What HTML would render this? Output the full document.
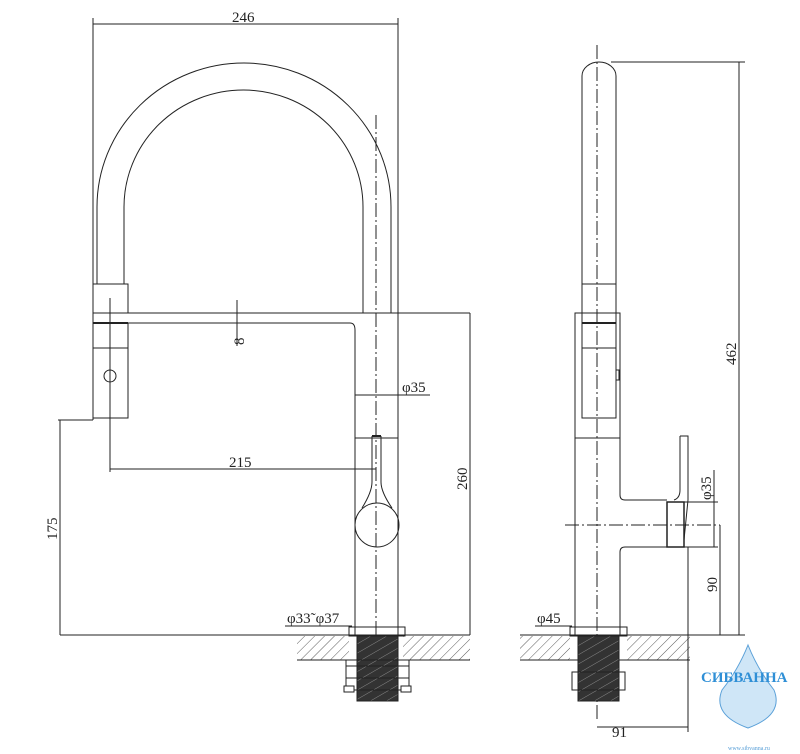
<!DOCTYPE html>
<html><head><meta charset="utf-8"><style>
html,body{margin:0;padding:0;background:#fff;}
svg{display:block;}
text{font-family:"Liberation Serif",serif;fill:#222;}
</style></head><body>
<svg width="800" height="754" viewBox="0 0 800 754" xmlns="http://www.w3.org/2000/svg">
<defs>
<pattern id="h" width="7" height="7" patternUnits="userSpaceOnUse" patternTransform="rotate(45)">
<line x1="0" y1="0" x2="0" y2="7" stroke="#333" stroke-width="0.8"/></pattern>
<pattern id="t" width="8" height="8" patternUnits="userSpaceOnUse" patternTransform="rotate(-30)">
<rect width="8" height="8" fill="#333"/><line x1="0" y1="0" x2="8" y2="0" stroke="#888" stroke-width="1"/></pattern>
</defs>
<g stroke="#222" stroke-width="1" fill="none">
<!-- LEFT VIEW -->
<line x1="93" y1="18" x2="93" y2="420"/>
<line x1="398" y1="18" x2="398" y2="313"/>
<line x1="93" y1="24" x2="398" y2="24"/>
<path d="M97 284 L97 207 A147 144 0 0 1 391 207 L391 313"/>
<path d="M124 284 L124 207 A119.5 117 0 0 1 363 207 L363 313"/>
<line x1="376" y1="115" x2="376" y2="700" stroke-dasharray="14,3,2,3"/>
<rect x="93" y="284" width="35" height="29"/>
<line x1="93" y1="313" x2="470" y2="313"/>
<path d="M93 323 L350 323 Q355 323 355 330 L355 635"/>
<line x1="398" y1="313" x2="398" y2="635"/>
<rect x="93" y="323" width="35" height="95"/>
<line x1="93" y1="323" x2="128" y2="323" stroke-width="2"/>
<line x1="93" y1="348" x2="128" y2="348"/>
<circle cx="110" cy="376" r="6"/>
<line x1="110" y1="298" x2="110" y2="472"/>
<line x1="237" y1="300" x2="237" y2="346"/>
<line x1="355" y1="395" x2="430" y2="395"/>
<line x1="355" y1="438" x2="398" y2="438"/>
<path d="M372 436 L381 436" stroke-width="2"/>
<path d="M372 436 L372 482 Q372 492 362 508"/>
<path d="M381 436 L381 482 Q381 492 392 508"/>
<circle cx="377" cy="525" r="22"/>
<line x1="110" y1="469" x2="376" y2="469"/>
<line x1="58" y1="420" x2="93" y2="420"/>
<line x1="60" y1="420" x2="60" y2="635"/>
<line x1="470" y1="313" x2="470" y2="635"/>
<line x1="60" y1="635" x2="470" y2="635"/>
<line x1="285" y1="626" x2="352" y2="626"/>
<rect x="297" y="636" width="52" height="24" fill="url(#h)" stroke="none"/>
<rect x="403" y="636" width="67" height="24" fill="url(#h)" stroke="none"/>
<line x1="297" y1="660" x2="470" y2="660"/>
<rect x="349" y="627" width="56" height="9"/>
<rect x="357" y="636" width="41" height="65" fill="url(#t)"/>
<rect x="346" y="660" width="63" height="30"/>
<line x1="346" y1="666" x2="409" y2="666"/>
<line x1="346" y1="678" x2="409" y2="678"/>
<rect x="344" y="686" width="10" height="6" fill="#fff"/>
<rect x="401" y="686" width="10" height="6" fill="#fff"/>
<!-- RIGHT VIEW -->
<path d="M582 313 L582 76 A17 14 0 0 1 616 76 L616 313"/>
<line x1="582" y1="284" x2="616" y2="284"/>
<rect x="575" y="313" width="45" height="125"/>
<rect x="582" y="313" width="34" height="105"/>
<line x1="582" y1="323" x2="616" y2="323" stroke-width="2"/>
<line x1="582" y1="348" x2="616" y2="348"/>
<rect x="616" y="370" width="3" height="10"/>
<line x1="575" y1="438" x2="575" y2="635"/>
<path d="M620 438 L620 495 Q620 500 625 500 L667 500"/>
<path d="M620 635 L620 552 Q620 547 625 547 L667 547"/>
<rect x="667" y="502" width="17" height="45" stroke-width="1.5"/>
<path d="M680 436 L688 436 L688 500 M680 436 L680 490 Q680 498 674 500 M688 500 L684 540"/>
<line x1="597" y1="45" x2="597" y2="720" stroke-dasharray="14,3,2,3"/>
<line x1="565" y1="525" x2="720" y2="525" stroke-dasharray="14,3,2,3"/>
<line x1="611" y1="62" x2="745" y2="62"/>
<line x1="739" y1="62" x2="739" y2="635"/>
<line x1="684" y1="502" x2="718" y2="502"/>
<line x1="684" y1="547" x2="718" y2="547"/>
<line x1="714" y1="470" x2="714" y2="547"/>
<line x1="720" y1="525" x2="720" y2="635"/>
<line x1="520" y1="635" x2="745" y2="635"/>
<line x1="535" y1="626" x2="572" y2="626"/>
<rect x="520" y="636" width="50" height="24" fill="url(#h)" stroke="none"/>
<rect x="627" y="636" width="63" height="24" fill="url(#h)" stroke="none"/>
<line x1="520" y1="660" x2="690" y2="660"/>
<rect x="570" y="627" width="57" height="9"/>
<rect x="578" y="636" width="41" height="65" fill="url(#t)"/>
<rect x="572" y="672" width="53" height="18"/>
<line x1="688" y1="547" x2="688" y2="732"/>
<line x1="597" y1="727" x2="688" y2="727"/>
</g>
<g font-size="15">
<text x="232" y="22">246</text>
<text x="229" y="467">215</text>
<text x="402" y="392">φ35</text>
<text x="287" y="623">φ33˜φ37</text>
<text x="537" y="623">φ45</text>
<text x="612" y="737">91</text>
<text transform="translate(244,345) rotate(-90)">8</text>
<text transform="translate(57,540) rotate(-90)">175</text>
<text transform="translate(467,490) rotate(-90)">260</text>
<text transform="translate(736,365) rotate(-90)">462</text>
<text transform="translate(711,500) rotate(-90)">φ35</text>
<text transform="translate(717,592) rotate(-90)">90</text>
</g>
<path d="M748 645 Q738 670 722 690 Q712 715 748 728 Q784 715 774 690 Q758 670 748 645Z" fill="#cfe6f7" stroke="#5aa0d8"/>
<text x="701" y="682" font-family="Liberation Sans,sans-serif" font-weight="bold" font-size="15" style="fill:#2f8fd6">СИБВАННА</text>
<text x="728" y="750" font-family="Liberation Sans,sans-serif" font-size="6" style="fill:#5aa0d8">www.sibvanna.ru</text>
</svg>
</body></html>
